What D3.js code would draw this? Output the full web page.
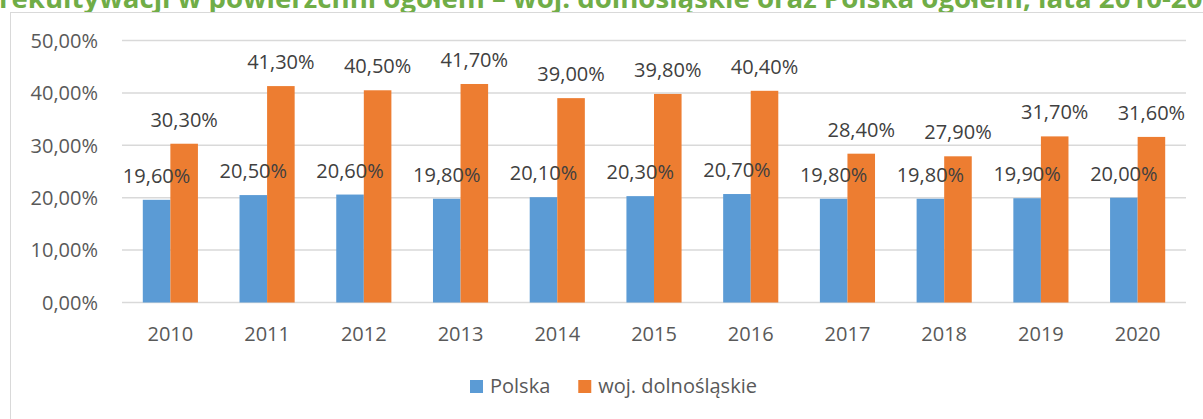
<!DOCTYPE html>
<html>
<head>
<meta charset="utf-8">
<script src="https://cdn.jsdelivr.net/npm/d3@7"></script>
<style>
  body { margin: 0; background: #fff; }
  text { font-family: "Open Sans", "Noto Sans", sans-serif; }
</style>
</head>
<body>
<div id="chart"></div>
<script>
// Data
var years = ["2010", "2011", "2012", "2013", "2014", "2015", "2016", "2017", "2018", "2019", "2020"];
var polska = [19.6, 20.5, 20.6, 19.8, 20.1, 20.3, 20.7, 19.8, 19.8, 19.9, 20.0];
var dolnoslaskie = [30.3, 41.3, 40.5, 41.7, 39.0, 39.8, 40.4, 28.4, 27.9, 31.7, 31.6];
var seriesNames = ["Polska", "woj. dolnośląskie"];
var yTicks = [0, 10, 20, 30, 40, 50];
var titleText = "rekultywacji w powierzchni ogółem – woj. dolnośląskie oraz Polska ogółem, lata 2010-2020";

var svgWidth = 1203;
var svgHeight = 419;
var colors = ["#5B9BD5", "#ED7D31"];

var svg = d3.select("#chart")
  .append("svg")
  .attr("width", svgWidth)
  .attr("height", svgHeight);

var fmt = function(v) { return v.toFixed(2).replace(".", ",") + "%"; };

// title sits above the chart frame, only its lower part shows
svg.append("text")
  .attr("x", -1)
  .attr("y", 8)
  .style("font-size", "27.6px")
  .style("font-weight", "bold")
  .style("fill", "#70AD47")
  .text(titleText);

// chart frame
svg.append("rect")
  .attr("x", 10.5)
  .attr("y", 12.5)
  .attr("width", 1220)
  .attr("height", 440)
  .attr("fill", "#fff")
  .attr("stroke", "#D9D9D9")
  .attr("stroke-width", 1);

// scales
var x0 = d3.scaleBand()
  .domain(years)
  .range([122, 1186])
  .paddingInner(0.43)
  .paddingOuter(0.215);

var x1 = d3.scaleBand()
  .domain([0, 1])
  .range([0, x0.bandwidth()]);

var y = d3.scaleLinear()
  .domain([0, 50])
  .range([302.5, 40.5]);

// gridlines
svg.append("g").selectAll("line")
  .data(yTicks)
  .enter()
  .append("line")
  .attr("x1", 122)
  .attr("x2", 1186)
  .attr("y1", d => y(d))
  .attr("y2", d => y(d))
  .attr("stroke", "#D9D9D9")
  .attr("stroke-width", 1.5);

// y axis labels
svg.append("g").selectAll("text")
  .data(yTicks)
  .enter()
  .append("text")
  .attr("x", 98)
  .attr("y", d => y(d))
  .attr("dy", "0.36em")
  .attr("text-anchor", "end")
  .style("font-size", "20px")
  .style("fill", "#595959")
  .text(d => fmt(d));

// x axis labels
svg.append("g").selectAll("text")
  .data(years)
  .enter()
  .append("text")
  .attr("x", d => x0(d) + x0.bandwidth() / 2)
  .attr("y", 341)
  .attr("text-anchor", "middle")
  .style("font-size", "20px")
  .style("fill", "#595959")
  .text(d => d);

var series = [polska, dolnoslaskie];

// bars
series.forEach(function(vals, si) {
  svg.append("g").selectAll("rect")
    .data(vals)
    .enter()
    .append("rect")
    .attr("x", (d, i) => x0(years[i]) + x1(si))
    .attr("width", x1.bandwidth())
    .attr("y", d => y(d))
    .attr("height", d => y(0) - y(d))
    .attr("fill", colors[si]);
});

// data labels
series.forEach(function(vals, si) {
  svg.append("g").selectAll("text")
    .data(vals)
    .enter()
    .append("text")
    .attr("x", (d, i) => x0(years[i]) + x1(si) + x1.bandwidth() / 2)
    .attr("y", d => y(d) - 17)
    .attr("text-anchor", "middle")
    .style("font-size", "20px")
    .style("fill", "#404040")
    .text(d => fmt(d));
});

// legend
var legend = svg.append("g");
var lx = 470;
seriesNames.forEach(function(name, i) {
  legend.append("rect")
    .attr("x", lx)
    .attr("y", 380)
    .attr("width", 13)
    .attr("height", 13)
    .attr("fill", colors[i]);
  var t = legend.append("text")
    .attr("x", lx + 20)
    .attr("y", 393)
    .style("font-size", "20px")
    .style("fill", "#595959")
    .text(name);
  lx = lx + 20 + t.node().getComputedTextLength() + 28;
});
</script>
</body>
</html>
